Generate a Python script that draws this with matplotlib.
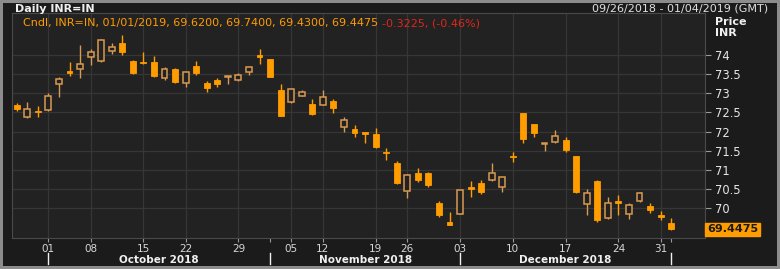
import matplotlib.pyplot as plt
from matplotlib.patches import Rectangle
from matplotlib.transforms import blended_transform_factory

# Daily INR=IN candles, 09/26/2018 - 01/01/2019 (trading days only)
dates = ["09/26", "09/27", "09/28", "10/01", "10/03", "10/04", "10/05", "10/08", "10/09", "10/10",
         "10/11", "10/12", "10/15", "10/16", "10/17", "10/19", "10/22", "10/23", "10/24", "10/25",
         "10/26", "10/29", "10/30", "10/31", "11/01", "11/02", "11/05", "11/06", "11/09", "11/12",
         "11/13", "11/14", "11/15", "11/16", "11/19", "11/20", "11/22", "11/26", "11/27", "11/28",
         "11/29", "11/30", "12/03", "12/04", "12/05", "12/06", "12/07", "12/10", "12/11", "12/12",
         "12/13", "12/14", "12/17", "12/18", "12/19", "12/20", "12/21", "12/24", "12/26", "12/27",
         "12/28", "12/31", "01/01"]
opens = [72.69, 72.37, 72.53, 72.56, 73.24, 73.58, 73.64, 73.94, 73.85, 74.11,
         74.32, 73.84, 73.83, 73.83, 73.39, 73.63, 73.28, 73.71, 73.26, 73.35,
         73.42, 73.35, 73.55, 74.00, 73.90, 73.10, 72.77, 72.93, 72.71, 72.69,
         72.80, 72.11, 72.06, 71.98, 71.93, 71.46, 71.17, 70.46, 70.91, 70.91,
         70.13, 69.65, 69.85, 70.54, 70.65, 70.74, 70.56, 71.36, 72.48, 72.20,
         71.68, 71.74, 71.78, 71.35, 70.11, 70.71, 69.74, 70.19, 69.85, 70.20,
         70.06, 69.82, 69.62]
highs = [72.74, 72.78, 72.67, 73.00, 73.43, 73.83, 74.26, 74.15, 74.42, 74.31,
         74.52, 73.87, 74.09, 73.97, 73.70, 73.67, 73.56, 73.85, 73.33, 73.39,
         73.45, 73.54, 73.71, 74.15, 73.90, 73.24, 73.13, 73.09, 72.84, 73.09,
         72.84, 72.39, 72.17, 71.98, 72.09, 71.56, 71.23, 70.89, 71.04, 70.95,
         70.19, 69.91, 70.48, 70.71, 70.74, 71.17, 70.81, 71.48, 72.48, 72.20,
         71.71, 72.04, 71.85, 71.36, 70.49, 70.74, 70.30, 70.34, 70.14, 70.41,
         70.13, 69.93, 69.74]
lows = [72.54, 72.35, 72.37, 72.55, 72.91, 73.45, 73.39, 73.74, 73.83, 74.03,
        74.00, 73.50, 73.78, 73.43, 73.35, 73.26, 73.17, 73.48, 73.04, 73.17,
        73.24, 73.33, 73.48, 73.78, 73.43, 72.41, 72.74, 72.93, 72.43, 72.69,
        72.49, 72.00, 71.87, 71.70, 71.56, 71.26, 70.63, 70.26, 70.69, 70.55,
        69.78, 69.56, 69.85, 70.29, 70.36, 70.72, 70.43, 71.21, 71.70, 71.85,
        71.50, 71.70, 71.48, 70.40, 69.82, 69.65, 69.71, 69.82, 69.71, 70.17,
        69.87, 69.68, 69.43]
closes = [72.58, 72.59, 72.50, 72.94, 73.37, 73.54, 73.78, 74.07, 74.39, 74.22,
          74.09, 73.52, 73.79, 73.46, 73.63, 73.30, 73.55, 73.52, 73.13, 73.24,
          73.45, 73.48, 73.68, 73.94, 73.43, 72.41, 73.11, 73.03, 72.46, 72.90,
          72.61, 72.30, 71.96, 71.93, 71.61, 71.43, 70.65, 70.87, 70.74, 70.61,
          69.82, 69.56, 70.48, 70.50, 70.43, 70.91, 70.81, 71.33, 71.80, 71.97,
          71.71, 71.89, 71.52, 70.43, 70.39, 69.69, 70.14, 70.14, 70.08, 70.39,
          69.96, 69.77, 69.4475]

day_ticks = ["10/01", "10/08", "10/15", "10/22", "10/29", "11/05", "11/12", "11/19",
             "11/26", "12/03", "12/10", "12/17", "12/24", "12/31"]
month_starts = ["10/01", "11/01", "12/03", "01/01"]
month_names = ["October 2018", "November 2018", "December 2018"]
price_ticks = [70, 70.5, 71, 71.5, 72, 72.5, 73, 73.5, 74]
last_price = 69.4475

bg = "#222222"
orange = "#ff9c00"
hollow = "#d89a50"

fig = plt.figure(figsize=(7.8, 2.69), dpi=100)
fig.patch.set_facecolor("#1b1b1b")
fig.patch.set_edgecolor("#8c8c8c")
fig.patch.set_linewidth(3)
ax = fig.add_axes([0.0158, 0.1152, 0.888, 0.8365])
ax.set_facecolor(bg)

# grid
for p in price_ticks:
    ax.axhline(p, color="#363636", lw=0.9, zorder=0)
for d in day_ticks:
    ax.axvline(dates.index(d), color="#363636", lw=0.9, zorder=0)

# candles
w = 0.56
for i in range(len(dates)):
    o, h, l, c = opens[i], highs[i], lows[i], closes[i]
    up = c > o
    col = hollow if up else orange
    ax.vlines(i, l, h, color=col, lw=1.0, zorder=2)
    bottom = min(o, c)
    height = max(abs(c - o), 0.035)
    if up:
        ax.add_patch(Rectangle((i - w / 2, bottom), w, height, facecolor=bg,
                               edgecolor=col, lw=1.1, zorder=3))
    else:
        ax.add_patch(Rectangle((i - w / 2, bottom), w, height, facecolor=orange,
                               edgecolor=orange, lw=0.6, zorder=3))

ax.set_xlim(-0.42, 65.2)
ax.set_ylim(69.22, 75.10)

for s in ax.spines.values():
    s.set_color("#4a4a4a")
    s.set_linewidth(0.8)

# right price axis
ax.yaxis.tick_right()
ax.set_yticks(price_ticks)
ax.set_yticklabels([f"{p:g}" for p in price_ticks])
ax.tick_params(axis="y", colors="#9a9a9a", labelcolor="#e6e6e6", length=4, width=0.8,
               pad=3, labelsize=8.3)

# date axis
ax.set_xticks([dates.index(d) for d in day_ticks])
ax.set_xticklabels([d[3:] for d in day_ticks])
ax.tick_params(axis="x", colors="#9a9a9a", labelcolor="#d8d8d8", length=3, width=0.8,
               pad=1, labelsize=7.5)
ax.set_xticks([dates.index(d) for d in month_starts], minor=True)
ax.tick_params(axis="x", which="minor", colors="#9a9a9a", length=3, width=0.8)

tr = blended_transform_factory(ax.transData, ax.transAxes)
for d in month_starts:
    x = dates.index(d)
    ax.plot([x, x], [-0.068, -0.115], color="#f0f0f0", lw=1.0, transform=tr, clip_on=False)
for k, name in enumerate(month_names):
    a = dates.index(month_starts[k])
    b = dates.index(month_starts[k + 1])
    ax.text((a + b) / 2, -0.097, name, transform=tr, ha="center", va="center",
            color="#f0f0f0", fontsize=7.5, fontweight="bold")

# last price box
ax.text(1.003, last_price, f"{last_price:.4f}",
        transform=blended_transform_factory(ax.transAxes, ax.transData),
        ha="left", va="center", fontsize=8, fontweight="bold", color="#1a1a1a",
        bbox=dict(boxstyle="square,pad=0.15", facecolor=orange, edgecolor=orange))

# header texts
fig.text(0.019, 0.968, "Daily INR=IN", color="#f0f0f0", fontsize=8, fontweight="bold",
         va="center", ha="left")
fig.text(0.985, 0.968, "09/26/2018 - 01/04/2019 (GMT)", color="#e0e0e0", fontsize=8,
         va="center", ha="right")
t1 = ax.text(0.016, 0.955, "Cndl, INR=IN, 01/01/2019, 69.6200, 69.7400, 69.4300, 69.4475 ",
             transform=ax.transAxes, color=orange, fontsize=8, va="center", ha="left")
fig.canvas.draw()
bb = t1.get_window_extent().transformed(ax.transAxes.inverted())
ax.text(bb.x1, 0.955, "-0.3225, (-0.46%)", transform=ax.transAxes, color="#e0261a",
        fontsize=8, va="center", ha="left")
fig.text(0.917, 0.918, "Price", color="#f0f0f0", fontsize=8, fontweight="bold",
         va="center", ha="left")
fig.text(0.917, 0.877, "INR", color="#f0f0f0", fontsize=8, fontweight="bold",
         va="center", ha="left")

fig.savefig("out.png", dpi=100, facecolor=fig.get_facecolor(), edgecolor=fig.get_edgecolor())
